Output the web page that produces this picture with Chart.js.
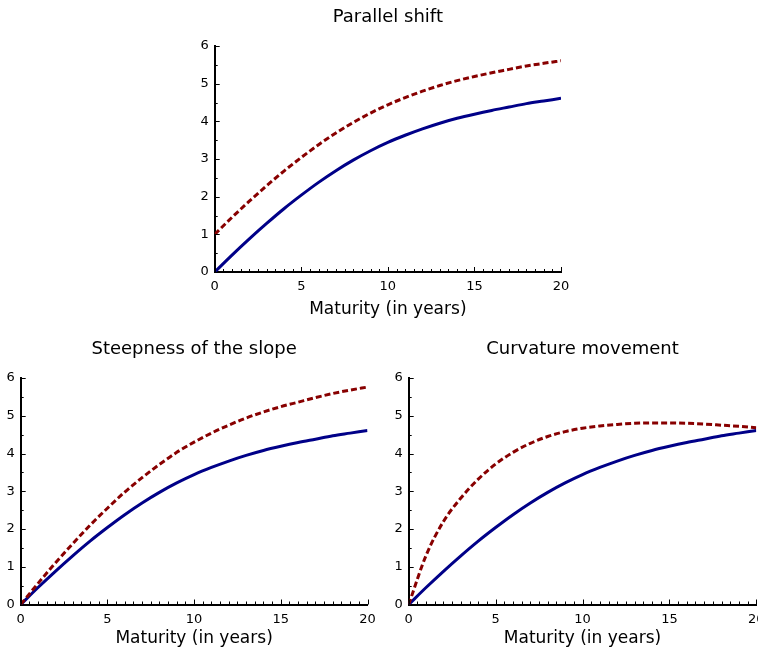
<!DOCTYPE html>
<html>
<head>
<meta charset="utf-8">
<script src="https://cdn.jsdelivr.net/npm/chart.js@4"></script>
<style>
  html, body { margin: 0; padding: 0; background: #fff; overflow: hidden; }
  canvas { position: absolute; }
</style>
</head>
<body>
<canvas id="parallelChart" width="450" height="325" style="left:150px;top:0px"></canvas>
<canvas id="steepChart" width="395" height="327" style="left:0px;top:325px"></canvas>
<canvas id="curveChart" width="378" height="327" style="left:380px;top:325px"></canvas>
<script>
// maturities in years
var maturity = [0, 1, 2, 3, 4, 5, 6, 7, 8, 9, 10, 11, 12, 13, 14, 15, 16, 17, 18, 19, 20];

// initial yield curve (same in every panel)
var baseCurve = [0, 0.45, 0.88, 1.29, 1.68, 2.04, 2.38, 2.69, 2.97, 3.22, 3.44,
                 3.63, 3.80, 3.95, 4.08, 4.19, 4.29, 4.38, 4.47, 4.54, 4.61];

// shifted curves
var parallelCurve = [1.00, 1.45, 1.88, 2.29, 2.68, 3.04, 3.38, 3.69, 3.97, 4.22, 4.44,
                     4.63, 4.80, 4.95, 5.08, 5.19, 5.29, 5.38, 5.47, 5.54, 5.61];
var steepCurve = [0, 0.56, 1.10, 1.61, 2.10, 2.55, 2.98, 3.36, 3.71, 4.03, 4.30,
                  4.54, 4.75, 4.94, 5.10, 5.24, 5.36, 5.48, 5.59, 5.68, 5.76];
var curvatureCurve = [0, 1.30, 2.20, 2.82, 3.32, 3.72, 4.03, 4.27, 4.45, 4.58, 4.67,
                      4.73, 4.77, 4.80, 4.81, 4.81, 4.80, 4.78, 4.75, 4.72, 4.68];

var xTicks = [0, 5, 10, 15, 20];
var yTicks = [0, 1, 2, 3, 4, 5, 6];

var FONT = 'DejaVu Sans';

// small tick marks pointing into the plot, major + minor
var innerTicks = {
  id: 'innerTicks',
  afterDraw: function (chart) {
    var ctx = chart.ctx, xs = chart.scales.x, ys = chart.scales.y;
    var area = chart.chartArea;
    ctx.save();
    ctx.strokeStyle = '#000';
    ctx.lineWidth = 1;
    ctx.beginPath();
    for (var v = 0; v <= 20; v += 0.5) {
      var px = Math.round(xs.getPixelForValue(v)) + 0.5;
      var len = v % 5 === 0 ? 5 : 3;
      ctx.moveTo(px, area.bottom);
      ctx.lineTo(px, area.bottom - len);
    }
    for (var w = 0; w <= 6; w += 0.5) {
      var py = Math.round(ys.getPixelForValue(w)) + 0.5;
      var l2 = w % 1 === 0 ? 5 : 3;
      ctx.moveTo(area.left, py);
      ctx.lineTo(area.left + l2, py);
    }
    ctx.stroke();
    ctx.restore();
  }
};

function makeChart(id, title, shifted, pad, titlePad, xHeight, xTitlePad) {
  return new Chart(document.getElementById(id), {
    type: 'line',
    data: {
      labels: maturity,
      datasets: [{
        data: shifted,
        borderColor: '#880000',
        borderWidth: 3,
        borderDash: [6, 3],
        pointRadius: 0,
        cubicInterpolationMode: 'monotone'
      }, {
        data: baseCurve,
        borderColor: '#000088',
        borderWidth: 3,
        pointRadius: 0,
        cubicInterpolationMode: 'monotone'
      }]
    },
    options: {
      responsive: false,
      animation: false,
      layout: { padding: pad },
      plugins: {
        legend: { display: false },
        tooltip: { enabled: false },
        title: {
          display: true,
          text: title,
          fullSize: false,
          color: '#000',
          font: { family: FONT, size: 18, weight: 'normal' },
          padding: titlePad
        }
      },
      scales: {
        x: {
          type: 'linear',
          min: 0,
          max: 20,
          afterBuildTicks: function (s) { s.ticks = xTicks.map(function (v) { return { value: v }; }); },
          afterFit: function (s) { s.height = xHeight; s.paddingLeft = 0; s.paddingRight = 0; },
          border: { color: '#000', width: 2 },
          grid: { display: false, drawTicks: false, tickLength: 0 },
          ticks: { color: '#000', padding: 7, maxRotation: 0, autoSkip: false,
                   font: { family: FONT, size: 13 } },
          title: {
            display: true,
            text: 'Maturity (in years)',
            color: '#000',
            font: { family: FONT, size: 17 },
            padding: { top: 0, bottom: xTitlePad }
          }
        },
        y: {
          min: 0,
          max: 6,
          afterBuildTicks: function (s) { s.ticks = yTicks.map(function (v) { return { value: v }; }); },
          afterFit: function (s) { s.width = 20; s.paddingTop = 0; s.paddingBottom = 0; },
          border: { color: '#000', width: 2 },
          grid: { display: false, drawTicks: false, tickLength: 0 },
          ticks: { color: '#000', padding: 6, font: { family: FONT, size: 13 } }
        }
      }
    },
    plugins: [innerTicks]
  });
}

makeChart('parallelChart', 'Parallel shift', parallelCurve,
  { left: 44.7, right: 39, top: 0, bottom: 0 }, { top: 6.2, bottom: 18.2 }, 53, 4.8);
makeChart('steepChart', 'Steepness of the slope', steepCurve,
  { left: 0.7, right: 27.5, top: 0, bottom: 0 }, { top: 13.2, bottom: 18.2 }, 47.5, 2.8);
makeChart('curveChart', 'Curvature movement', curvatureCurve,
  { left: 8.7, right: 1.7, top: 0, bottom: 0 }, { top: 13.2, bottom: 18.2 }, 47.5, 2.8);
</script>
</body>
</html>
